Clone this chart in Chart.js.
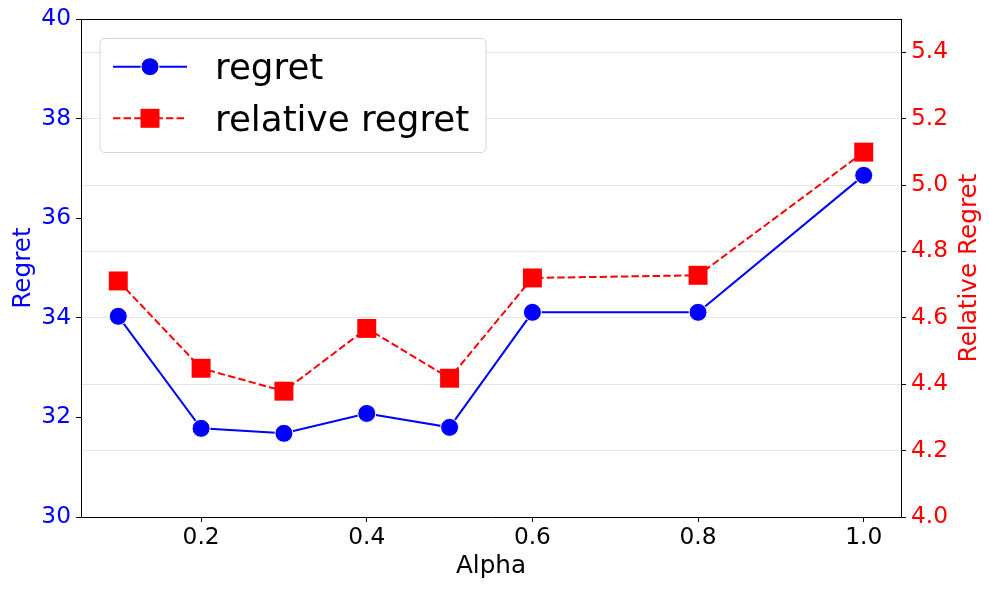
<!DOCTYPE html>
<html>
<head>
<meta charset="utf-8">
<script src="https://cdn.jsdelivr.net/npm/chart.js@4.4.1/dist/chart.umd.min.js"></script>
<style>
  html, body { margin: 0; padding: 0; background: #ffffff; }
  #wrap { width: 989px; height: 590px; position: relative; }
</style>
</head>
<body>
<div id="wrap"><canvas id="c"></canvas></div>
<script>
// ---- data ----
const alphas = [0.1, 0.2, 0.3, 0.4, 0.5, 0.6, 0.8, 1.0];
const regret = [34.03, 31.78, 31.68, 32.08, 31.80, 34.11, 34.11, 36.86];
const relativeRegret = [4.711, 4.448, 4.379, 4.568, 4.418, 4.720, 4.728, 5.099];

const xTicks = [0.2, 0.4, 0.6, 0.8, 1.0];
const regretTicks = [30, 32, 34, 36, 38, 40];
const relTicks = [4.0, 4.2, 4.4, 4.6, 4.8, 5.0, 5.2, 5.4];

const seriesNames = ['regret', 'relative regret'];
const axisTitles = { x: 'Alpha', y: 'Regret', y1: 'Relative Regret' };

const FONT = "'DejaVu Sans', sans-serif";
const TICK_SIZE = 23.3;
const TITLE_SIZE = 24.7;
const BLUE = '#0000ff';
const RED = '#ff0000';

const toPoints = (ys) => alphas.map((a, i) => ({ x: a, y: ys[i] }));

const framePlugin = {
  id: 'frame',
  afterDatasetsDraw(chart) {
    const { ctx, chartArea: a } = chart;
    ctx.save();
    ctx.strokeStyle = '#000';
    ctx.lineWidth = 1;
    ctx.beginPath();
    ctx.moveTo(a.left, Math.round(a.top) + 0.5);
    ctx.lineTo(a.right, Math.round(a.top) + 0.5);
    ctx.stroke();
    ctx.restore();
  }
};

const rightTitlePlugin = {
  id: 'rightTitle',
  afterDraw(chart) {
    const { ctx, chartArea: a } = chart;
    ctx.save();
    ctx.translate(970, (a.top + a.bottom) / 2);
    ctx.rotate(-Math.PI / 2);
    ctx.fillStyle = RED;
    ctx.font = TITLE_SIZE + "px " + FONT;
    ctx.textAlign = 'center';
    ctx.textBaseline = 'middle';
    ctx.fillText(axisTitles.y1, 0, 0);
    ctx.restore();
  }
};

const legendPlugin = {
  id: 'innerLegend',
  afterDraw(chart) {
    const { ctx } = chart;
    const x0 = 100, y0 = 38.5, w = 386, h = 114, r = 5;
    ctx.save();
    ctx.beginPath();
    ctx.moveTo(x0 + r, y0);
    ctx.lineTo(x0 + w - r, y0);
    ctx.arcTo(x0 + w, y0, x0 + w, y0 + r, r);
    ctx.lineTo(x0 + w, y0 + h - r);
    ctx.arcTo(x0 + w, y0 + h, x0 + w - r, y0 + h, r);
    ctx.lineTo(x0 + r, y0 + h);
    ctx.arcTo(x0, y0 + h, x0, y0 + h - r, r);
    ctx.lineTo(x0, y0 + r);
    ctx.arcTo(x0, y0, x0 + r, y0, r);
    ctx.closePath();
    ctx.fillStyle = 'rgba(255,255,255,0.8)';
    ctx.fill();
    ctx.strokeStyle = 'rgba(204,204,204,0.8)';
    ctx.lineWidth = 1;
    ctx.stroke();

    const ly1 = 66.7, ly2 = 118.3;
    // row 1: regret
    ctx.strokeStyle = BLUE;
    ctx.lineWidth = 2;
    ctx.setLineDash([]);
    ctx.beginPath(); ctx.moveTo(113, ly1); ctx.lineTo(187, ly1); ctx.stroke();
    ctx.beginPath(); ctx.arc(150, ly1, 9, 0, Math.PI * 2);
    ctx.fillStyle = BLUE; ctx.fill();
    ctx.strokeStyle = '#ffffff'; ctx.lineWidth = 1; ctx.stroke();

    // row 2: relative regret
    ctx.strokeStyle = RED;
    ctx.lineWidth = 2;
    ctx.setLineDash([7.4, 3.2]);
    ctx.beginPath(); ctx.moveTo(113, ly2); ctx.lineTo(187, ly2); ctx.stroke();
    ctx.setLineDash([]);
    ctx.fillStyle = RED;
    ctx.fillRect(150 - 9.5, ly2 - 9.5, 19, 19);

    ctx.fillStyle = '#000';
    ctx.font = "35.7px " + FONT;
    ctx.textAlign = 'left';
    ctx.textBaseline = 'alphabetic';
    ctx.fillText(seriesNames[0], 215, 79);
    ctx.fillText(seriesNames[1], 215, 130.5);
    ctx.restore();
  }
};

new Chart(document.getElementById('c'), {
  type: 'line',
  data: {
    datasets: [
      {
        label: seriesNames[1],
        data: toPoints(relativeRegret),
        yAxisID: 'y1',
        borderColor: RED,
        backgroundColor: RED,
        borderWidth: 2,
        borderDash: [7.4, 3.2],
        pointStyle: 'rect',
        pointRadius: 13.4,
        pointHoverRadius: 13.4,
        pointBorderWidth: 0,
        pointBackgroundColor: RED,
        tension: 0,
        fill: false
      },
      {
        label: seriesNames[0],
        data: toPoints(regret),
        yAxisID: 'y',
        borderColor: BLUE,
        backgroundColor: BLUE,
        borderWidth: 2,
        pointStyle: 'circle',
        pointRadius: 9,
        pointHoverRadius: 9,
        pointBorderColor: '#ffffff',
        pointBorderWidth: 1,
        pointBackgroundColor: BLUE,
        tension: 0,
        fill: false
      }
    ]
  },
  options: {
    responsive: true,
    maintainAspectRatio: false,
    animation: false,
    events: [],
    layout: { padding: { top: 19, left: 0, right: 0, bottom: 0 } },
    plugins: { legend: { display: false }, tooltip: { enabled: false } },
    scales: {
      x: {
        type: 'linear',
        min: 0.055,
        max: 1.045,
        afterBuildTicks: (s) => { s.ticks = xTicks.map(v => ({ value: v })); },
        afterFit: (s) => { s.height = 73; },
        grid: { drawOnChartArea: false, tickLength: 5, tickColor: '#000', tickWidth: 1 },
        border: { display: true, color: '#000', width: 1 },
        ticks: {
          color: '#000', font: { family: FONT, size: TICK_SIZE }, padding: 2,
          maxRotation: 0, autoSkip: false,
          callback: (v) => Number(v).toFixed(1)
        },
        title: {
          display: true, text: axisTitles.x, color: '#000',
          font: { family: FONT, size: TITLE_SIZE, lineHeight: 1 },
          padding: { top: 0, bottom: 11.2 }
        }
      },
      y: {
        type: 'linear',
        position: 'left',
        min: 30,
        max: 40,
        afterBuildTicks: (s) => { s.ticks = regretTicks.map(v => ({ value: v })); },
        afterFit: (s) => { s.width = 81; },
        grid: { drawOnChartArea: false, tickLength: 5, tickColor: '#000', tickWidth: 1 },
        border: { display: true, color: '#000', width: 1 },
        ticks: {
          color: BLUE, font: { family: FONT, size: TICK_SIZE }, padding: 5,
          callback: (v) => String(Math.round(v))
        },
        title: {
          display: true, text: axisTitles.y, color: BLUE,
          font: { family: FONT, size: TITLE_SIZE, lineHeight: 1 },
          padding: { top: 11.2, bottom: 0 }
        }
      },
      y1: {
        type: 'linear',
        position: 'right',
        min: 4.0,
        max: 5.5,
        afterBuildTicks: (s) => { s.ticks = relTicks.map(v => ({ value: v })); },
        afterFit: (s) => { s.width = 88; },
        grid: {
          drawOnChartArea: true, color: '#e6e6e6', lineWidth: 1,
          tickLength: 5, tickColor: '#000', tickWidth: 1
        },
        border: { display: true, color: '#000', width: 1 },
        ticks: {
          color: RED, font: { family: FONT, size: TICK_SIZE }, padding: 5,
          callback: (v) => Number(v).toFixed(1)
        },
        title: { display: false }
      }
    }
  },
  plugins: [framePlugin, rightTitlePlugin, legendPlugin]
});
</script>
</body>
</html>
